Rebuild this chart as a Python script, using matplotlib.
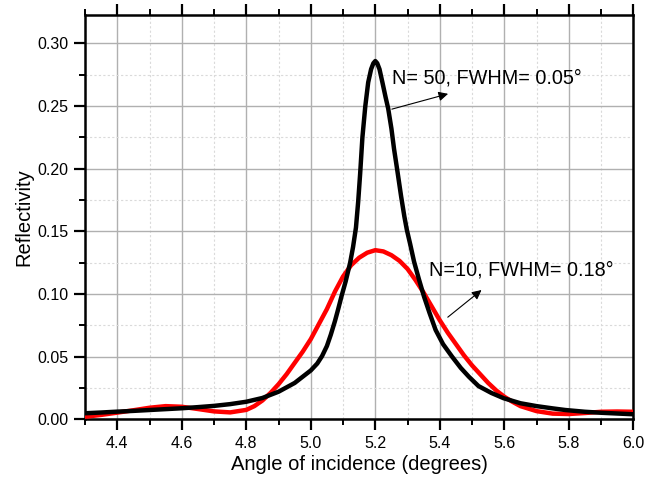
import matplotlib
matplotlib.use("Agg")
import matplotlib.pyplot as plt
from matplotlib.ticker import MultipleLocator

plt.rcParams['font.family'] = ['Liberation Sans', 'DejaVu Sans']

# N=50 (black)
x_n50 = [4.30, 4.35, 4.40, 4.45, 4.50, 4.55, 4.60, 4.65, 4.70, 4.75, 4.80, 4.85,
         4.90, 4.95, 4.975, 5.00, 5.02, 5.035, 5.05, 5.062, 5.075, 5.085, 5.095,
         5.108, 5.122, 5.131, 5.14, 5.147, 5.153, 5.160, 5.169, 5.178, 5.187,
         5.194, 5.200, 5.206, 5.213, 5.222, 5.232, 5.240, 5.250, 5.258, 5.268,
         5.280, 5.290, 5.298, 5.308, 5.320, 5.335, 5.351, 5.368, 5.387, 5.41,
         5.438, 5.465, 5.49, 5.52, 5.56, 5.598, 5.65, 5.70, 5.75, 5.789, 5.85,
         5.90, 5.95, 6.00]
y_n50 = [0.0048, 0.0054, 0.0061, 0.0067, 0.0074, 0.0081, 0.0088, 0.0097, 0.0107,
         0.0121, 0.0140, 0.0170, 0.0220, 0.0290, 0.0340, 0.0390, 0.0445, 0.0505,
         0.0585, 0.0675, 0.0785, 0.0880, 0.0980, 0.1100, 0.1250, 0.1375, 0.1530,
         0.1740, 0.1960, 0.2250, 0.2500, 0.2690, 0.2795, 0.2842, 0.2860, 0.2842,
         0.2795, 0.2690, 0.2570, 0.2480, 0.2320, 0.2160, 0.1990, 0.1780, 0.1620,
         0.1510, 0.1400, 0.1260, 0.1120, 0.0980, 0.0850, 0.0713, 0.0600, 0.0500,
         0.0410, 0.0340, 0.0265, 0.0210, 0.0168, 0.0128, 0.0105, 0.0087, 0.0074,
         0.0060, 0.0052, 0.0046, 0.0040]

# N=10 (red)
x_n10 = [4.30, 4.35, 4.40, 4.45, 4.50, 4.55, 4.60, 4.65, 4.70, 4.75, 4.80, 4.825,
         4.85, 4.875, 4.90, 4.925, 4.95, 4.975, 5.00, 5.025, 5.05, 5.075, 5.10,
         5.125, 5.15, 5.175, 5.20, 5.225, 5.25, 5.275, 5.30, 5.325, 5.35, 5.375,
         5.40, 5.425, 5.45, 5.475, 5.50, 5.525, 5.55, 5.575, 5.60, 5.625, 5.65,
         5.70, 5.75, 5.80, 5.85, 5.90, 5.95, 6.00]
y_n10 = [0.0020, 0.0035, 0.0053, 0.0072, 0.0092, 0.0105, 0.0100, 0.0082, 0.0063,
         0.0055, 0.0075, 0.0105, 0.0150, 0.0210, 0.0280, 0.0360, 0.0450, 0.0540,
         0.0640, 0.0760, 0.0880, 0.1020, 0.1140, 0.1230, 0.1290, 0.1330, 0.1350,
         0.1340, 0.1310, 0.1265, 0.1200, 0.1110, 0.1010, 0.0900, 0.0790, 0.0690,
         0.0600, 0.0510, 0.0430, 0.0360, 0.0290, 0.0230, 0.0180, 0.0140, 0.0105,
         0.0065, 0.0045, 0.0042, 0.0050, 0.0060, 0.0062, 0.0060]

x_ticks = [4.4, 4.6, 4.8, 5.0, 5.2, 5.4, 5.6, 5.8, 6.0]
y_ticks = [0.00, 0.05, 0.10, 0.15, 0.20, 0.25, 0.30]

fig = plt.figure(figsize=(6.46, 4.80), dpi=100)
ax = fig.add_axes([0.1316, 0.1265, 0.9804 - 0.1316, 0.9694 - 0.1265])

ax.plot(x_n10, y_n10, color='#ff0000', lw=3.2, zorder=3, solid_joinstyle='round')
ax.plot(x_n50, y_n50, color='black', lw=3.2, zorder=4, solid_joinstyle='round')

ax.set_xlim(4.3, 6.0)
ax.set_ylim(0.0, 0.323)
ax.set_xticks(x_ticks)
ax.set_yticks(y_ticks)
ax.set_xticklabels([f"{v:.1f}" for v in x_ticks])
ax.set_yticklabels([f"{v:.2f}" for v in y_ticks])
ax.xaxis.set_minor_locator(MultipleLocator(0.1))
ax.yaxis.set_minor_locator(MultipleLocator(0.025))

ax.grid(which='major', color='#b0b0b0', lw=1.0, ls='-', zorder=0)
ax.grid(which='minor', color='#dadada', lw=0.8, ls=(0, (2, 2)), zorder=0)
ax.set_axisbelow(True)

for s in ax.spines.values():
    s.set_linewidth(1.8)
    s.set_color('black')

ax.tick_params(which='major', direction='out', length=8, width=1.6, labelsize=11.5,
               top=True, right=False, pad=4)
ax.tick_params(which='minor', direction='out', length=4, width=1.4,
               top=True, right=False)

ax.set_xlabel('Angle of incidence (degrees)', fontsize=14.5, labelpad=3)
ax.set_ylabel('Reflectivity', fontsize=14.5, labelpad=3)

ax.annotate('', xy=(5.434, 0.2604), xytext=(5.243, 0.247),
            arrowprops=dict(arrowstyle='-|>', color='black', lw=0.8,
                            mutation_scale=14), zorder=5)
ax.text(5.252, 0.2726, 'N= 50, FWHM= 0.05°', fontsize=14.3, va='center', ha='left',
        zorder=6)

ax.annotate('', xy=(5.536, 0.1046), xytext=(5.418, 0.0801),
            arrowprops=dict(arrowstyle='-|>', color='black', lw=0.8,
                            mutation_scale=14), zorder=5)
ax.text(5.366, 0.1193, 'N=10, FWHM= 0.18°', fontsize=14.3, va='center', ha='left',
        zorder=6)

fig.savefig('out.png', dpi=100)
